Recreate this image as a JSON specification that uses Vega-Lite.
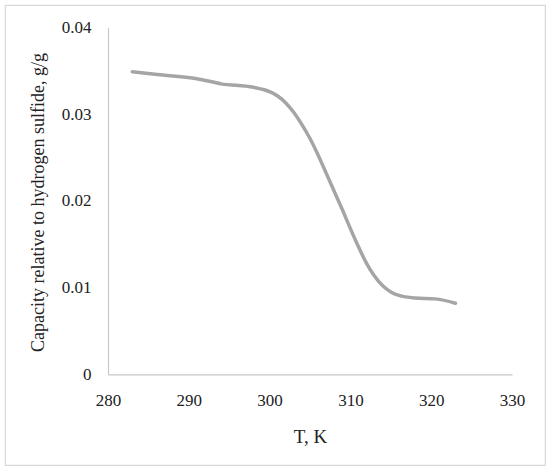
{
  "$schema": "https://vega.github.io/schema/vega-lite/v6.json",
  "autosize": "none",
  "width": 540,
  "height": 460,
  "padding": {"left": 5, "top": 5, "right": 5, "bottom": 6},
  "background": "white",
  "config": {
    "view": {"stroke": "#d9d9d9", "strokeWidth": 1.2},
    "font": "Liberation Serif"
  },
  "data": {
    "values": [
      {"T": 283, "capacity": 0.0349},
      {"T": 288, "capacity": 0.0344},
      {"T": 291, "capacity": 0.0341},
      {"T": 294, "capacity": 0.0335},
      {"T": 298, "capacity": 0.0331},
      {"T": 300, "capacity": 0.0326},
      {"T": 301, "capacity": 0.0321},
      {"T": 302, "capacity": 0.0313},
      {"T": 303, "capacity": 0.0302},
      {"T": 304, "capacity": 0.0288},
      {"T": 305, "capacity": 0.0272},
      {"T": 306, "capacity": 0.0253},
      {"T": 307, "capacity": 0.0232},
      {"T": 308, "capacity": 0.0211},
      {"T": 309, "capacity": 0.019},
      {"T": 310, "capacity": 0.0168},
      {"T": 311, "capacity": 0.0147},
      {"T": 312, "capacity": 0.0128},
      {"T": 313, "capacity": 0.0113},
      {"T": 314, "capacity": 0.0102},
      {"T": 315, "capacity": 0.0095},
      {"T": 316, "capacity": 0.0091},
      {"T": 318, "capacity": 0.0088},
      {"T": 320.5, "capacity": 0.0087},
      {"T": 323, "capacity": 0.0082}
    ]
  },
  "mark": {"type": "line", "interpolate": "monotone", "color": "#a5a5a5", "strokeWidth": 3.5, "strokeCap": "round"},
  "encoding": {
    "x": {
      "field": "T",
      "type": "quantitative",
      "title": "T, K",
      "scale": {"domain": [280, 330], "range": [103, 507], "nice": false, "zero": false},
      "axis": {
        "values": [280, 290, 300, 310, 320, 330],
        "offset": -90.7,
        "grid": false,
        "ticks": false,
        "labelFlush": false,
        "domainColor": "#c8c8c8",
        "domainWidth": 1.2,
        "labelFont": "Liberation Serif",
        "labelFontSize": 17,
        "labelColor": "#222222",
        "labelPadding": 18,
        "titleFont": "Liberation Serif",
        "titleFontSize": 19,
        "titleFontWeight": "normal",
        "titleColor": "#222222",
        "titlePadding": 19
      }
    },
    "y": {
      "field": "capacity",
      "type": "quantitative",
      "title": "Capacity relative to hydrogen sulfide, g/g",
      "scale": {"domain": [0, 0.04], "range": [369.3, 22.5], "nice": false, "zero": false},
      "axis": {
        "values": [0, 0.01, 0.02, 0.03, 0.04],
        "format": "~g",
        "offset": -103,
        "grid": false,
        "ticks": false,
        "labelFlush": false,
        "domainColor": "#c8c8c8",
        "domainWidth": 1.2,
        "labelFont": "Liberation Serif",
        "labelFontSize": 17,
        "labelColor": "#222222",
        "labelPadding": 17,
        "titleFont": "Liberation Serif",
        "titleFontSize": 18,
        "titleFontWeight": "normal",
        "titleColor": "#222222",
        "titlePadding": 14,
        "titleY": 197
      }
    }
  }
}
